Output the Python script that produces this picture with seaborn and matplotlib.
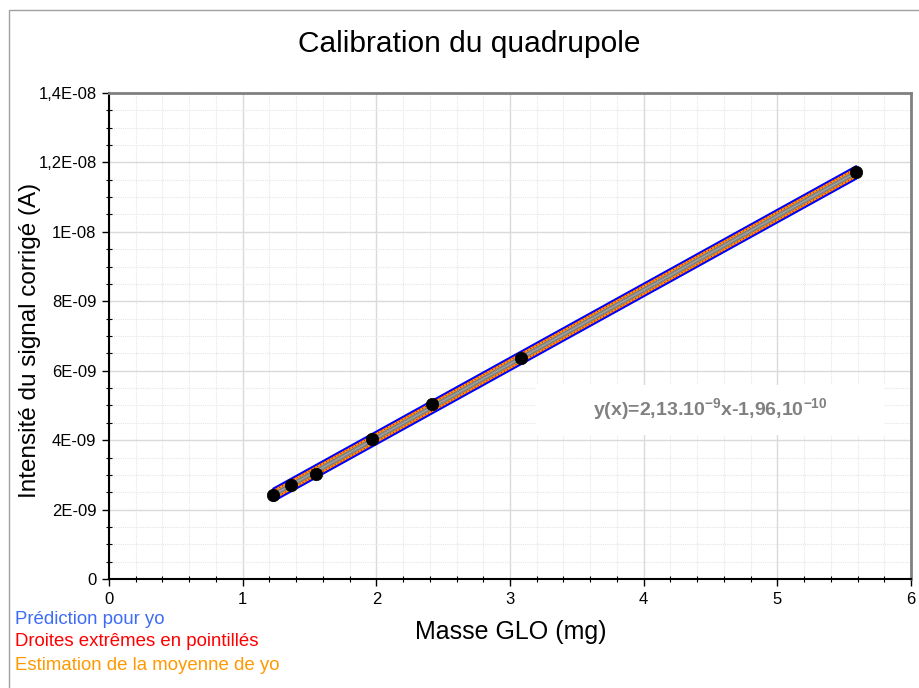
import numpy as np
import pandas as pd
import matplotlib
matplotlib.use("Agg")
import matplotlib.pyplot as plt
from matplotlib.patches import Rectangle
from matplotlib.ticker import MultipleLocator, FixedLocator, FixedFormatter
import seaborn as sns

# Calibration measurements
masse_mg = [1.23, 1.36, 1.55, 1.97, 2.42, 3.08, 5.59]
intensite_A = [2.42e-9, 2.71e-9, 3.02e-9, 4.03e-9, 5.04e-9, 6.37e-9, 11.72e-9]

# Fitted line y = a x + b and band half-widths
pente = 2.13e-9
ordonnee = -1.96e-10
demi_largeur_prediction = 1.7e-10
demi_largeur_moyenne = 1.15e-10

y_ticks = [0, 2e-9, 4e-9, 6e-9, 8e-9, 1e-8, 1.2e-8, 1.4e-8]
y_tick_labels = ["0", "2E-09", "4E-09", "6E-09", "8E-09", "1E-08", "1,2E-08", "1,4E-08"]
x_ticks = [0, 1, 2, 3, 4, 5, 6]

sns.set_theme(style="white")
plt.rcParams["font.family"] = ["Liberation Sans", "DejaVu Sans"]
plt.rcParams["mathtext.fontset"] = "custom"
plt.rcParams["mathtext.rm"] = "Liberation Sans"
plt.rcParams["mathtext.bf"] = "Liberation Sans:bold"

fig = plt.figure(figsize=(9.19, 6.88), dpi=100)
fig.patch.set_facecolor("white")
ax = fig.add_axes([109 / 919, 1 - 579 / 688, 802 / 919, 486 / 688])

# Figure frame
fig.add_artist(Rectangle((9 / 919, -0.05), 1.0, 1 - 10 / 688 + 0.05,
                         transform=fig.transFigure, fill=False,
                         edgecolor="#a0a0a0", linewidth=1.0))

df = pd.DataFrame({"x": masse_mg, "y": intensite_A})
x_fit = np.array([min(masse_mg), max(masse_mg)])
y_fit = pente * x_fit + ordonnee
fit = pd.DataFrame({"x": x_fit, "y": y_fit})

# Confidence band for the mean (grey fill bounded by orange)
ax.fill_between(x_fit, y_fit - demi_largeur_moyenne, y_fit + demi_largeur_moyenne,
                color="#808080", linewidth=0, zorder=3)
for s in (-1, 1):
    sns.lineplot(x=x_fit, y=y_fit + s * demi_largeur_prediction, ax=ax,
                 color="#0000ff", linewidth=2.0, zorder=4)
    sns.lineplot(x=x_fit, y=y_fit + s * demi_largeur_moyenne, ax=ax,
                 color="#ff9900", linewidth=1.5, zorder=4)
    sns.lineplot(x=x_fit, y=y_fit + s * demi_largeur_moyenne, ax=ax,
                 color="#ff0000", linewidth=0.8, linestyle=(0, (1, 2)), zorder=4)
sns.lineplot(data=fit, x="x", y="y", ax=ax, color="#a0a0a0", linewidth=1.0, zorder=4)

sns.scatterplot(data=df, x="x", y="y", ax=ax, color="black", s=80,
                edgecolor="black", linewidth=0.5, zorder=6)

ax.set_xlim(0, 6)
ax.set_ylim(0, 1.4e-8)
ax.xaxis.set_major_locator(FixedLocator(x_ticks))
ax.xaxis.set_minor_locator(MultipleLocator(0.2))
ax.yaxis.set_major_locator(FixedLocator(y_ticks))
ax.yaxis.set_major_formatter(FixedFormatter(y_tick_labels))
ax.yaxis.set_minor_locator(MultipleLocator(5e-10))

ax.grid(which="major", color="#dadada", linewidth=1.0, zorder=0)
ax.grid(which="minor", color="#e6e6e6", linewidth=0.8, linestyle=(0, (1, 1)), zorder=0)
ax.set_axisbelow(True)

for side in ("left", "bottom"):
    ax.spines[side].set_color("black")
    ax.spines[side].set_linewidth(1.5)
for side in ("top", "right"):
    ax.spines[side].set_color("#808080")
    ax.spines[side].set_linewidth(2.0)

ax.tick_params(which="major", direction="out", length=5, width=1, color="black",
               labelsize=12, labelcolor="black", pad=4,
               left=True, bottom=True)
ax.tick_params(which="minor", direction="inout", length=5, width=0.8, color="black",
               left=True, bottom=True)

ax.set_xlabel("Masse GLO (mg)", fontsize=18, color="black")
ax.set_ylabel("Intensité du signal corrigé (A)", fontsize=17.5, color="black")
ax.xaxis.set_label_coords(0.501, -0.109)
ax.yaxis.set_label_coords(-0.0985, 0.49)
ax.xaxis.label.set_va("center")
ax.yaxis.label.set_va("center")

fig.text(469 / 919, 1 - 44 / 688, "Calibration du quadrupole", fontsize=21.5,
         ha="center", va="center", color="black")

# Equation box
ax.add_patch(Rectangle((0.531, 0.296), 0.437, 0.103, transform=ax.transAxes,
                       facecolor="white", edgecolor="none", zorder=5))
ax.text(0.75, 0.348, r"y(x)=2,13.10$^{\mathbf{-9}}$x-1,96,10$^{\mathbf{-10}}$",
        transform=ax.transAxes, ha="center", va="center", fontsize=14,
        fontweight="bold", color="#808080", zorder=6)

# Colour key below the axes
fig.text(15 / 919, 1 - 620 / 688, "Prédiction pour yo", color="#3d6cf5",
         fontsize=13.4, ha="left", va="center")
fig.text(15 / 919, 1 - 642 / 688, "Droites extrêmes en pointillés", color="#ff0000",
         fontsize=13.4, ha="left", va="center")
fig.text(15 / 919, 1 - 665 / 688, "Estimation de la moyenne de yo", color="#ff9900",
         fontsize=13.4, ha="left", va="center")

fig.savefig("out.png", dpi=100, facecolor="white")
